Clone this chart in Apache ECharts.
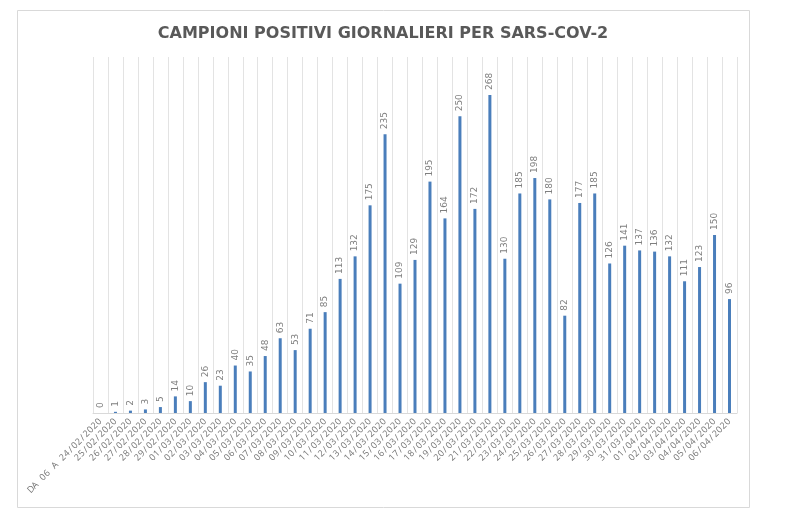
<!DOCTYPE html>
<html>
<head>
<meta charset="utf-8">
<script src="https://cdn.jsdelivr.net/npm/echarts@6/dist/echarts.min.js"></script>
<style>
  html, body { margin: 0; padding: 0; background: #fff; }
  #chart { width: 798px; height: 519px; }
</style>
</head>
<body>
<div id="chart"></div>
<script>
// Daily positive samples
const dates = [
  'DA 06 A 24/02/2020', '25/02/2020', '26/02/2020', '27/02/2020', '28/02/2020', '29/02/2020',
  '01/03/2020', '02/03/2020', '03/03/2020', '04/03/2020', '05/03/2020', '06/03/2020',
  '07/03/2020', '08/03/2020', '09/03/2020', '10/03/2020', '11/03/2020', '12/03/2020',
  '13/03/2020', '14/03/2020', '15/03/2020', '16/03/2020', '17/03/2020', '18/03/2020',
  '19/03/2020', '20/03/2020', '21/03/2020', '22/03/2020', '23/03/2020', '24/03/2020',
  '25/03/2020', '26/03/2020', '27/03/2020', '28/03/2020', '29/03/2020', '30/03/2020',
  '31/03/2020', '01/04/2020', '02/04/2020', '03/04/2020', '04/04/2020', '05/04/2020',
  '06/04/2020'
];
const positives = [
  0, 1, 2, 3, 5, 14, 10, 26, 23, 40, 35, 48, 63, 53, 71, 85, 113, 132, 175, 235,
  109, 129, 195, 164, 250, 172, 268, 130, 185, 198, 180, 82, 177, 185, 126, 141,
  137, 136, 132, 111, 123, 150, 96
];

const myChart = echarts.init(document.getElementById('chart'));

// spread out the date characters a bit, like the original sheet
const spaced = (s) => s.split('').map(ch => '{c|' + ch + '}').join('');

const option = {
  animation: false,
  textStyle: { fontFamily: 'Open Sans' },
  title: {
    text: 'CAMPIONI POSITIVI GIORNALIERI PER SARS-COV-2',
    left: 378,
    textAlign: 'center',
    top: 21,
    textStyle: {
      fontFamily: 'DejaVu Sans',
      fontSize: 16,
      fontWeight: 'bold',
      color: '#595959'
    }
  },
  graphic: [
    {
      type: 'rect',
      shape: { x: 17.5, y: 10.5, width: 732, height: 497 },
      style: { fill: 'none', stroke: '#d9d9d9', lineWidth: 1 },
      silent: true
    }
  ],
  grid: {
    left: 93,
    right: 61,
    top: 57,
    bottom: 106
  },
  xAxis: {
    type: 'category',
    data: dates,
    axisLine: { lineStyle: { color: '#d9d9d9' } },
    axisTick: { show: false },
    splitLine: { show: true, lineStyle: { color: '#e3e3e3', width: 1 } },
    axisLabel: {
      interval: 0,
      rotate: 45,
      margin: 7,
      formatter: spaced,
      rich: {
        c: {
          width: 5.6,
          align: 'center',
          fontFamily: 'Open Sans',
          fontSize: 9,
          color: '#737373'
        }
      }
    }
  },
  yAxis: {
    type: 'value',
    min: 0,
    max: 300,
    show: false,
    splitLine: { show: false }
  },
  series: [
    {
      type: 'bar',
      data: positives,
      barWidth: 3,
      itemStyle: { color: '#4a7ebb' },
      label: {
        show: true,
        position: 'top',
        rotate: 90,
        align: 'left',
        verticalAlign: 'middle',
        distance: 5,
        fontFamily: 'DejaVu Sans',
        fontSize: 9,
        color: '#7f7f7f'
      }
    }
  ]
};

myChart.setOption(option);
</script>
</body>
</html>
